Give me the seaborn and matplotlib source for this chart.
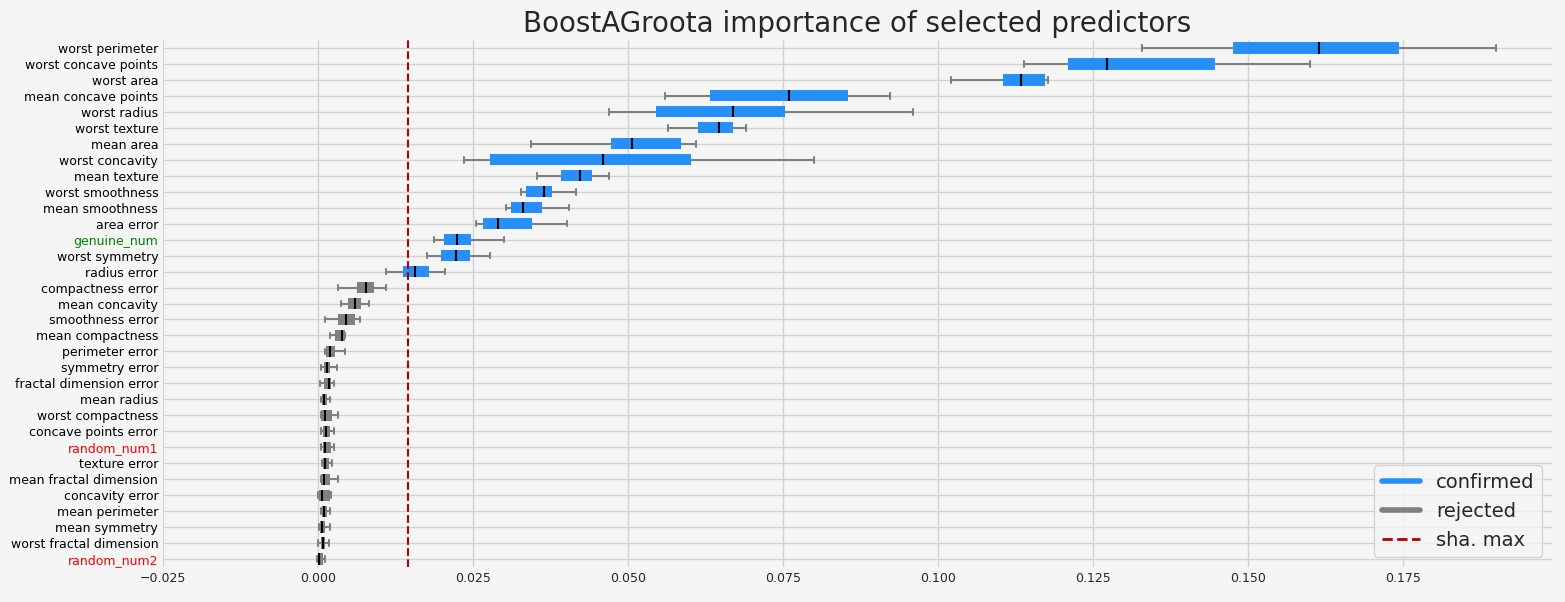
import matplotlib
matplotlib.use("Agg")
import matplotlib.pyplot as plt
import seaborn as sns
import pandas as pd
import numpy as np
from matplotlib.lines import Line2D

features = ["worst perimeter","worst concave points","worst area","mean concave points","worst radius",
 "worst texture","mean area","worst concavity","mean texture","worst smoothness","mean smoothness",
 "area error","genuine_num","worst symmetry","radius error","compactness error","mean concavity",
 "smoothness error","mean compactness","perimeter error","symmetry error","fractal dimension error",
 "mean radius","worst compactness","concave points error","random_num1","texture error",
 "mean fractal dimension","concavity error","mean perimeter","mean symmetry","worst fractal dimension","random_num2"]
# whisker low, q1, median, q3, whisker high
stats = [
 [0.1329,0.1476,0.1614,0.1743,0.1900],
 [0.1139,0.1210,0.1272,0.1447,0.1600],
 [0.1020,0.1104,0.1133,0.1173,0.1178],
 [0.0559,0.0632,0.0759,0.0855,0.0923],
 [0.0469,0.0545,0.0670,0.0753,0.0960],
 [0.0565,0.0613,0.0647,0.0670,0.0690],
 [0.0344,0.0472,0.0507,0.0586,0.0610],
 [0.0236,0.0278,0.0459,0.0601,0.0800],
 [0.0353,0.0392,0.0422,0.0442,0.0470],
 [0.0328,0.0335,0.0364,0.0377,0.0416],
 [0.0303,0.0311,0.0330,0.0361,0.0405],
 [0.0254,0.0266,0.0291,0.0345,0.0401],
 [0.0187,0.0203,0.0224,0.0247,0.0300],
 [0.0175,0.0198,0.0223,0.0245,0.0277],
 [0.0110,0.0137,0.0157,0.0179,0.0205],
 [0.0032,0.0063,0.0077,0.0090,0.0109],
 [0.0037,0.0049,0.0060,0.0070,0.0083],
 [0.0012,0.0032,0.0045,0.0059,0.0068],
 [0.0020,0.0028,0.0038,0.0043,0.0044],
 [0.0011,0.0013,0.0019,0.0027,0.0044],
 [0.0005,0.0010,0.0015,0.0020,0.0030],
 [0.0003,0.0010,0.0018,0.0021,0.0025],
 [0.0004,0.0006,0.0010,0.0014,0.0020],
 [0.0004,0.0004,0.0011,0.0023,0.0033],
 [0.0004,0.0008,0.0013,0.0019,0.0025],
 [0.0004,0.0008,0.0011,0.0021,0.0026],
 [0.0007,0.0008,0.0011,0.0017,0.0023],
 [0.0005,0.0005,0.0010,0.0019,0.0032],
 [0.0000,0.0002,0.0006,0.0020,0.0021],
 [0.0004,0.0006,0.0009,0.0015,0.0019],
 [0.0002,0.0003,0.0006,0.0012,0.0019],
 [0.0000,0.0005,0.0008,0.0012,0.0017],
 [-0.0001,0.0000,0.0002,0.0008,0.0011],
]
decision = ["confirmed"]*15 + ["rejected"]*18
sha_max = 0.0145
label_colors = {"genuine_num":"green","random_num1":"red","random_num2":"red"}

rows = []
for f, s, d in zip(features, stats, decision):
    for v in s:
        rows.append({"feature": f, "importance": v, "decision": d})
df = pd.DataFrame(rows)

sns.set_style("whitegrid")
plt.rcParams['font.family'] = ['DejaVu Sans']
fig = plt.figure(figsize=(15.65, 6.02), dpi=100, facecolor="#f5f5f5")
ax = fig.add_axes([163/1565, 1-567/602, (1552-163)/1565, (567-40)/602])
ax.set_facecolor("#f5f5f5")
palette = {"confirmed": "#2690f8", "rejected": "#808080"}
sns.boxplot(data=df, x="importance", y="feature", hue="decision", order=features, palette=palette,
            orient="h", whis=(0, 100), width=0.7, dodge=False, saturation=1, legend=False, ax=ax,
            boxprops=dict(edgecolor="none", linewidth=0),
            whiskerprops=dict(color="gray", linewidth=1.5),
            capprops=dict(color="gray", linewidth=1.5),
            medianprops=dict(color="black", linewidth=1.5))
for cap in ax.lines:
    pass
ax.axvline(sha_max, color="#b30000", linestyle="--", linewidth=1.5)
ax.set_xlim(-0.025, 0.1990)
ax.set_ylim(len(features)-0.5, -0.5)
ax.set_xticks([-0.025,0,0.025,0.05,0.075,0.1,0.125,0.15,0.175])
ax.set_xticklabels(["\u22120.025","0.000","0.025","0.050","0.075","0.100","0.125","0.150","0.175"])
ax.set_xlabel(""); ax.set_ylabel("")
ax.tick_params(axis="both", labelsize=9, length=0)
for lab in ax.get_yticklabels():
    lab.set_color(label_colors.get(lab.get_text(), "black"))
ax.grid(True, color="#d3d3d3", linewidth=1)
for sp in ax.spines.values():
    sp.set_visible(False)
ax.set_title("BoostAGroota importance of selected predictors", fontsize=20, pad=6)
handles = [Line2D([0],[0], color="#2690f8", lw=4), Line2D([0],[0], color="gray", lw=4),
           Line2D([0],[0], color="#b30000", lw=2, ls="--")]
ax.legend(handles, ["confirmed","rejected","sha. max"], loc="lower right", fontsize=14, facecolor="#f5f5f5")
fig.savefig("out.png", dpi=100, facecolor="#f5f5f5")
